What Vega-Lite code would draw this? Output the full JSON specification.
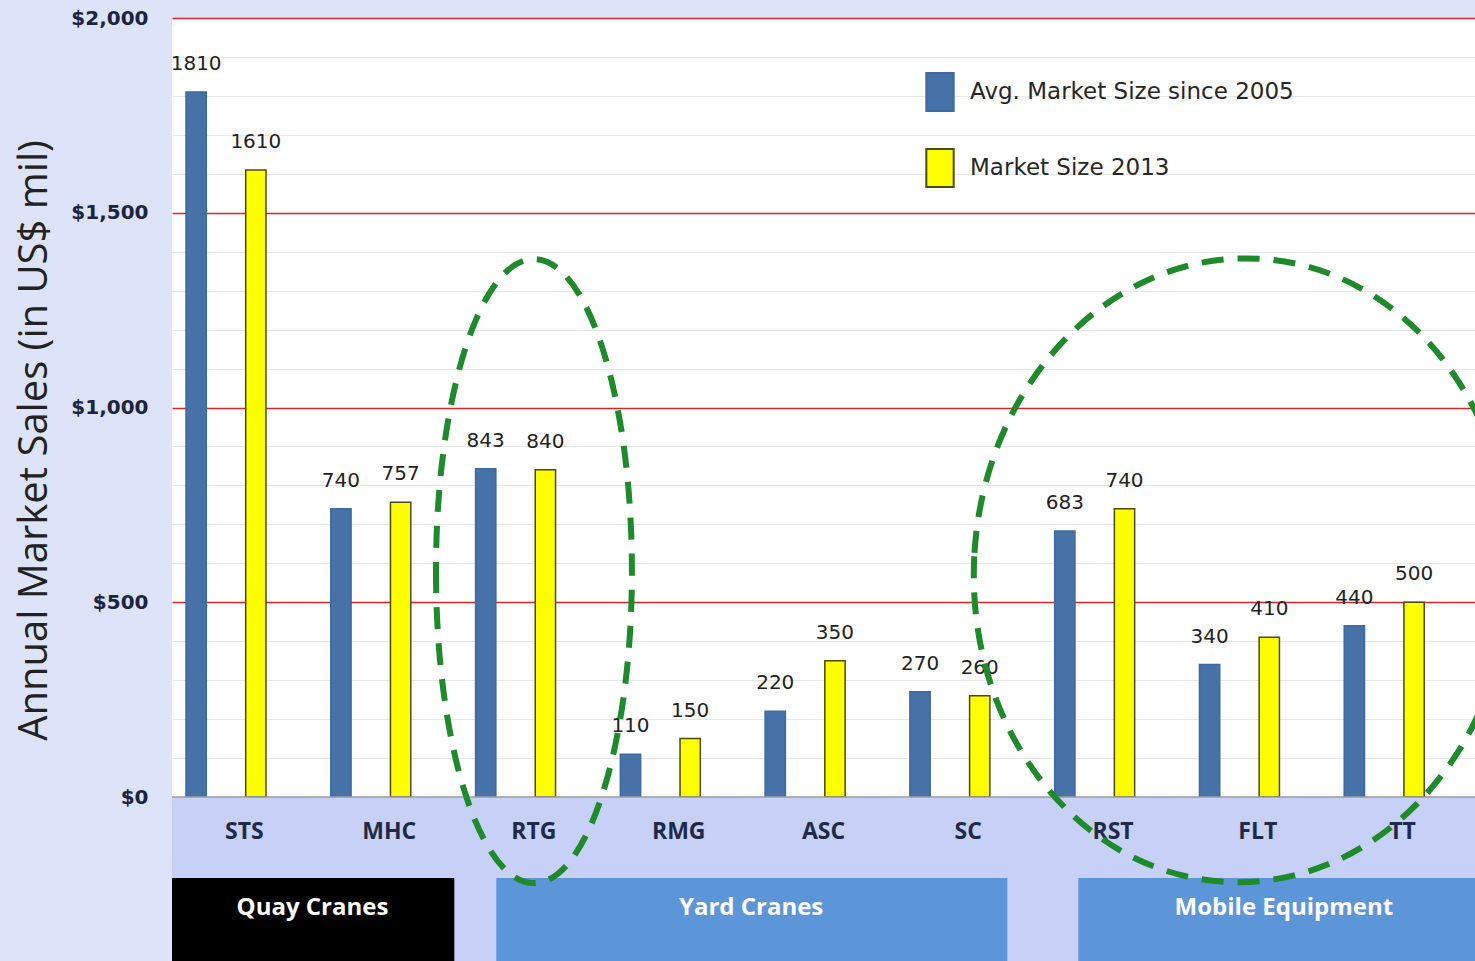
{
  "$schema": "https://vega.github.io/schema/vega-lite/v6.json",
  "width": 1303,
  "height": 943,
  "autosize": {"type": "none"},
  "padding": {"left": 172, "top": 18, "right": 0, "bottom": 0},
  "background": "#dde3f8",
  "config": {"view": {"fill": "white", "stroke": null}, "font": "Open Sans"},
  "datasets": {
    "bars": [
      {"cat": "STS", "series": "Avg. Market Size since 2005", "value": 1810},
      {"cat": "STS", "series": "Market Size 2013", "value": 1610},
      {"cat": "MHC", "series": "Avg. Market Size since 2005", "value": 740},
      {"cat": "MHC", "series": "Market Size 2013", "value": 757},
      {"cat": "RTG", "series": "Avg. Market Size since 2005", "value": 843},
      {"cat": "RTG", "series": "Market Size 2013", "value": 840},
      {"cat": "RMG", "series": "Avg. Market Size since 2005", "value": 110},
      {"cat": "RMG", "series": "Market Size 2013", "value": 150},
      {"cat": "ASC", "series": "Avg. Market Size since 2005", "value": 220},
      {"cat": "ASC", "series": "Market Size 2013", "value": 350},
      {"cat": "SC", "series": "Avg. Market Size since 2005", "value": 270},
      {"cat": "SC", "series": "Market Size 2013", "value": 260},
      {"cat": "RST", "series": "Avg. Market Size since 2005", "value": 683},
      {"cat": "RST", "series": "Market Size 2013", "value": 740},
      {"cat": "FLT", "series": "Avg. Market Size since 2005", "value": 340},
      {"cat": "FLT", "series": "Market Size 2013", "value": 410},
      {"cat": "TT", "series": "Avg. Market Size since 2005", "value": 440},
      {"cat": "TT", "series": "Market Size 2013", "value": 500}
    ],
    "cats": [
      {"cat": "STS"}, {"cat": "MHC"}, {"cat": "RTG"}, {"cat": "RMG"}, {"cat": "ASC"},
      {"cat": "SC"}, {"cat": "RST"}, {"cat": "FLT"}, {"cat": "TT"}
    ]
  },
  "layer": [
    {
      "data": {"name": "bars"},
      "mark": {"type": "bar", "strokeWidth": 1.5},
      "encoding": {
        "x": {
          "field": "cat", "type": "nominal", "sort": null, "axis": null,
          "scale": {"domain": ["STS", "MHC", "RTG", "RMG", "ASC", "SC", "RST", "FLT", "TT"], "paddingInner": 0, "paddingOuter": 0}
        },
        "xOffset": {
          "field": "series", "type": "nominal", "sort": null,
          "scale": {"domain": ["Avg. Market Size since 2005", "Market Size 2013"], "range": [14, 94], "paddingInner": 0.66, "paddingOuter": 0}
        },
        "y": {
          "field": "value", "type": "quantitative",
          "scale": {"domain": [-421, 2000], "nice": false, "zero": false},
          "axis": {
            "title": "Annual Market Sales (in US$ mil)",
            "titleFont": "Open Sans", "titleFontSize": 40, "titleFontWeight": "normal", "titleColor": "#222222",
            "titleAngle": -90, "titleAlign": "center", "titleBaseline": "middle",
            "titleX": -138, "titleY": 422,
            "values": [0,25,50,75,100,125,150,175,200,225,250,275,300,325,350,375,400,425,450,475,500,525,550,575,600,625,650,675,700,725,750,775,800,825,850,875,900,925,950,975,1000,1025,1050,1075,1100,1125,1150,1175,1200,1225,1250,1275,1300,1325,1350,1375,1400,1425,1450,1475,1500,1525,1550,1575,1600,1625,1650,1675,1700,1725,1750,1775,1800,1825,1850,1875,1900,1925,1950,1975,2000],
            "labelExpr": "datum.value % 500 === 0 ? '$' + format(datum.value, ',') : ''",
            "labelOverlap": false, "labelFlush": false, "labelBound": false,
            "labelFont": "DejaVu Sans", "labelFontSize": 20, "labelFontWeight": "bold", "labelColor": "#1c2340",
            "labelPadding": 24,
            "ticks": false, "domain": false,
            "grid": true,
            "gridColor": {"condition": {"test": "datum.value > 0 && datum.value % 500 === 0", "value": "#d9262b"}, "value": "#e8e8e8"},
            "gridWidth": {"condition": {"test": "datum.value % 500 === 0", "value": 1.6}, "value": 1}
          }
        },
        "fill": {
          "field": "series", "type": "nominal",
          "scale": {"domain": ["Avg. Market Size since 2005", "Market Size 2013"], "range": ["#4672a8", "#ffff00"]},
          "legend": {
            "title": null, "orient": "none", "legendX": 748, "legendY": 54, "padding": 0,
            "symbolType": "M -0.72,-1 L 0.72,-1 L 0.72,1 L -0.72,1 Z", "symbolSize": 1444, "symbolStrokeWidth": 2,
            "labelFont": "DejaVu Sans", "labelFontSize": 23, "labelColor": "#262626", "labelOffset": 10, "rowPadding": 30, "labelLimit": 500
          }
        },
        "stroke": {
          "field": "series", "type": "nominal",
          "scale": {"domain": ["Avg. Market Size since 2005", "Market Size 2013"], "range": ["#3f6a9e", "#4a4a12"]},
          "legend": {
            "title": null, "orient": "none", "legendX": 748, "legendY": 54, "padding": 0,
            "symbolType": "M -0.72,-1 L 0.72,-1 L 0.72,1 L -0.72,1 Z", "symbolSize": 1444, "symbolStrokeWidth": 2,
            "labelFont": "DejaVu Sans", "labelFontSize": 23, "labelColor": "#262626", "labelOffset": 10, "rowPadding": 30, "labelLimit": 500
          }
        }
      }
    },
    {
      "data": {"values": [{}]},
      "mark": {"type": "rect", "fill": "#c7d0f6"},
      "encoding": {
        "y": {"datum": 0},
        "y2": {"datum": -421}
      }
    },
    {
      "data": {"name": "bars"},
      "mark": {"type": "text", "font": "DejaVu Sans", "fontSize": 20, "color": "#222222", "baseline": "alphabetic", "dy": -22},
      "encoding": {
        "x": {"field": "cat", "type": "nominal", "sort": null, "axis": null},
        "xOffset": {"field": "series", "type": "nominal", "sort": null},
        "y": {"field": "value", "type": "quantitative"},
        "text": {"field": "value", "type": "quantitative"}
      }
    },
    {
      "data": {"values": [{}]},
      "mark": {"type": "rule", "color": "#9c9c9c", "strokeWidth": 1.5},
      "encoding": {"y": {"datum": 0}}
    },
    {
      "data": {"name": "cats"},
      "mark": {"type": "text", "fontSize": 23, "fontWeight": "bold", "color": "#1f2a4a", "baseline": "middle"},
      "encoding": {
        "x": {"field": "cat", "type": "nominal", "sort": null, "axis": null},
        "y": {"datum": -90},
        "text": {"field": "cat"}
      }
    },
    {
      "data": {"values": [{"cat": "STS", "end": "MHC", "group": "Quay Cranes"}]},
      "layer": [
        {
          "mark": {"type": "rect", "fill": "#000000"},
          "encoding": {
            "x": {"field": "cat", "type": "nominal", "sort": null, "axis": null, "bandPosition": 0},
            "x2": {"field": "end", "bandPosition": 0.95},
            "y": {"datum": -208},
            "y2": {"datum": -421}
          }
        },
        {
          "mark": {"type": "text", "fontSize": 24, "fontWeight": "bold", "color": "white", "baseline": "middle"},
          "encoding": {
            "x": {"field": "cat", "type": "nominal", "sort": null, "axis": null, "bandPosition": 0.97},
            "y": {"datum": -285},
            "text": {"field": "group"}
          }
        }
      ]
    },
    {
      "data": {"values": [{"cat": "RTG", "end": "SC", "mid": "RMG", "group": "Yard Cranes"}]},
      "layer": [
        {
          "mark": {"type": "rect", "fill": "#5c96d8"},
          "encoding": {
            "x": {"field": "cat", "type": "nominal", "sort": null, "axis": null, "bandPosition": 0.24},
            "x2": {"field": "end", "bandPosition": 0.77},
            "y": {"datum": -208},
            "y2": {"datum": -421}
          }
        },
        {
          "mark": {"type": "text", "fontSize": 24, "fontWeight": "bold", "color": "white", "baseline": "middle"},
          "encoding": {
            "x": {"field": "mid", "type": "nominal", "sort": null, "axis": null, "bandPosition": 1},
            "y": {"datum": -285},
            "text": {"field": "group"}
          }
        }
      ]
    },
    {
      "data": {"values": [{"cat": "RST", "end": "TT", "mid": "FLT", "group": "Mobile Equipment"}]},
      "layer": [
        {
          "mark": {"type": "rect", "fill": "#5c96d8"},
          "encoding": {
            "x": {"field": "cat", "type": "nominal", "sort": null, "axis": null, "bandPosition": 0.26},
            "x2": {"field": "end", "bandPosition": 1},
            "y": {"datum": -208},
            "y2": {"datum": -421}
          }
        },
        {
          "mark": {"type": "text", "fontSize": 24, "fontWeight": "bold", "color": "white", "baseline": "middle"},
          "encoding": {
            "x": {"field": "mid", "type": "nominal", "sort": null, "axis": null, "bandPosition": 0.68},
            "y": {"datum": -285},
            "text": {"field": "group"}
          }
        }
      ]
    },
    {
      "data": {"values": [{"cat": "RTG"}]},
      "mark": {"type": "point", "shape": "M -0.314,0 A 0.314,1 0 1,0 0.314,0 A 0.314,1 0 1,0 -0.314,0 Z", "filled": false, "color": "#1e8a2b", "opacity": 1, "strokeWidth": 6, "strokeDash": [22, 14], "size": 389376},
      "encoding": {
        "x": {"field": "cat", "type": "nominal", "sort": null, "axis": null},
        "y": {"datum": 580}
      }
    },
    {
      "data": {"values": [{"cat": "FLT"}]},
      "mark": {"type": "point", "shape": "M -0.91,0 A 0.86,1 0 1,0 0.81,0 A 0.86,1 0 1,0 -0.91,0 Z", "filled": false, "color": "#1e8a2b", "opacity": 1, "strokeWidth": 6, "strokeDash": [22, 14], "size": 389376, "angle": 3},
      "encoding": {
        "x": {"field": "cat", "type": "nominal", "sort": null, "axis": null},
        "y": {"datum": 580}
      }
    }
  ]
}
